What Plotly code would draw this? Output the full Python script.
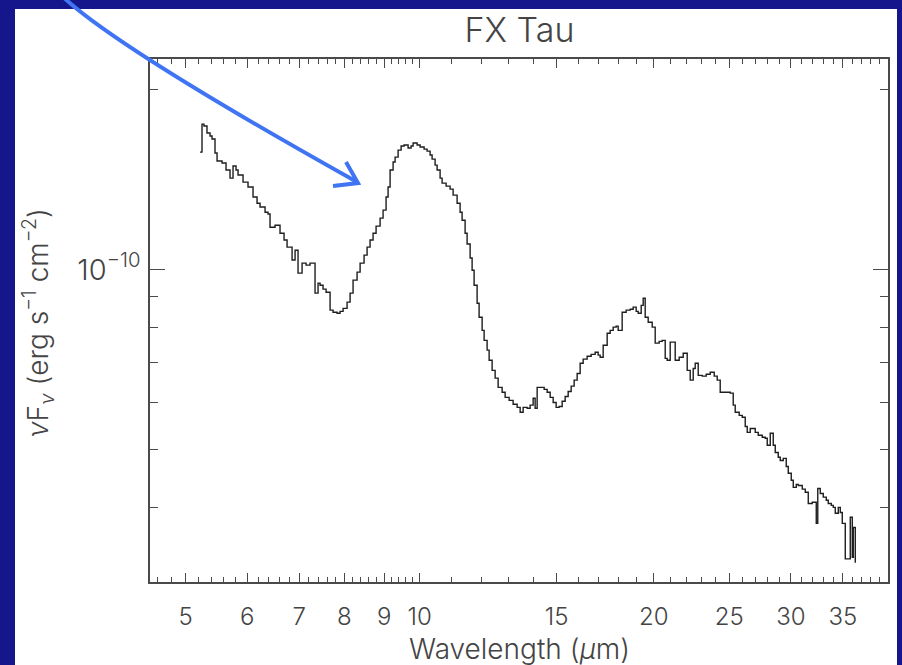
import numpy as np
import plotly.graph_objects as go

# Spitzer IRS spectrum of FX Tau: wavelength (micron) and nu*F_nu (units of 1e-10 erg s^-1 cm^-2)
wavelength = [
    5.218, 5.249, 5.280, 5.327, 5.375, 5.407, 5.455, 5.488, 5.570, 5.636,
    5.703, 5.754, 5.805, 5.840, 5.927, 6.015, 6.105, 6.178, 6.233, 6.326,
    6.382, 6.420, 6.516, 6.613, 6.692, 6.752, 6.853, 6.914, 6.975, 7.059,
    7.143, 7.228, 7.335, 7.401, 7.445, 7.511, 7.579, 7.669, 7.737, 7.829,
    7.899, 7.970, 8.065, 8.137, 8.209, 8.307, 8.382, 8.481, 8.557, 8.633,
    8.710, 8.788, 8.893, 8.972, 9.052, 9.106, 9.160, 9.242, 9.297, 9.380,
    9.464, 9.548, 9.662, 9.748, 9.806, 9.923, 10.011, 10.130, 10.221, 10.312,
    10.373, 10.466, 10.528, 10.622, 10.685, 10.812, 10.941, 11.039, 11.170, 11.270,
    11.337, 11.438, 11.506, 11.609, 11.678, 11.747, 11.852, 11.922, 12.029, 12.100,
    12.208, 12.281, 12.390, 12.501, 12.613, 12.763, 12.877, 13.030, 13.185, 13.343,
    13.462, 13.582, 13.744, 13.866, 13.990, 14.073, 14.157, 14.326, 14.454, 14.582,
    14.713, 14.844, 14.976, 15.110, 15.245, 15.381, 15.518, 15.657, 15.796, 15.937,
    16.079, 16.223, 16.416, 16.612, 16.810, 16.960, 17.060, 17.213, 17.418, 17.573,
    17.730, 17.888, 17.995, 18.209, 18.426, 18.646, 18.812, 18.980, 19.093, 19.263,
    19.378, 19.493, 19.667, 19.901, 20.079, 20.318, 20.500, 20.683, 20.805, 20.991,
    21.116, 21.304, 21.558, 21.815, 22.075, 22.272, 22.471, 22.604, 22.806, 23.078,
    23.353, 23.631, 23.913, 24.126, 24.341, 24.705, 25.073, 25.297, 25.447, 25.750,
    25.980, 26.212, 26.368, 26.603, 26.761, 27.000, 27.241, 27.566, 27.811, 27.977,
    28.227, 28.478, 28.648, 28.904, 29.075, 29.335, 29.596, 29.772, 30.038, 30.217,
    30.486, 30.667, 31.033, 31.310, 31.589, 31.965, 32.251, 32.346, 32.490, 32.732,
    33.024, 33.318, 33.516, 33.815, 34.016, 34.218, 34.524, 34.729, 34.935, 35.247,
    35.562, 35.773, 35.986, 36.092, 36.307,
]
nufnu_e10 = [
    1.572, 1.751, 1.738, 1.692, 1.672, 1.653, 1.566, 1.519, 1.507, 1.467,
    1.422, 1.490, 1.467, 1.439, 1.400, 1.374, 1.322, 1.291, 1.272, 1.247,
    1.238, 1.177, 1.186, 1.150, 1.120, 1.090, 1.037, 1.077, 0.986, 1.025,
    1.017, 1.025, 0.913, 0.949, 0.941, 0.927, 0.916, 0.855, 0.848, 0.845,
    0.851, 0.861, 0.882, 0.913, 0.960, 0.990, 1.025, 1.057, 1.090, 1.120,
    1.150, 1.182, 1.219, 1.257, 1.322, 1.374, 1.467, 1.513, 1.542, 1.584,
    1.609, 1.615, 1.597, 1.609, 1.628, 1.615, 1.603, 1.590, 1.578, 1.554,
    1.530, 1.495, 1.467, 1.422, 1.395, 1.379, 1.363, 1.332, 1.291, 1.247,
    1.209, 1.150, 1.103, 1.045, 0.997, 0.941, 0.878, 0.832, 0.791, 0.761,
    0.733, 0.705, 0.678, 0.658, 0.635, 0.623, 0.611, 0.604, 0.595, 0.588,
    0.577, 0.588, 0.586, 0.593, 0.609, 0.586, 0.635, 0.635, 0.630, 0.623,
    0.611, 0.599, 0.588, 0.590, 0.602, 0.613, 0.625, 0.638, 0.653, 0.670,
    0.697, 0.708, 0.716, 0.721, 0.727, 0.719, 0.713, 0.747, 0.782, 0.791,
    0.801, 0.804, 0.791, 0.848, 0.855, 0.858, 0.865, 0.851, 0.845, 0.871,
    0.895, 0.832, 0.816, 0.801, 0.753, 0.758, 0.761, 0.710, 0.705, 0.756,
    0.756, 0.705, 0.713, 0.724, 0.678, 0.653, 0.683, 0.697, 0.665, 0.663,
    0.668, 0.673, 0.663, 0.653, 0.623, 0.623, 0.621, 0.593, 0.577, 0.570,
    0.566, 0.546, 0.534, 0.542, 0.542, 0.534, 0.528, 0.524, 0.522, 0.508,
    0.532, 0.508, 0.494, 0.485, 0.479, 0.483, 0.468, 0.456, 0.444, 0.432,
    0.437, 0.435, 0.429, 0.424, 0.406, 0.408, 0.408, 0.376, 0.430, 0.422,
    0.416, 0.411, 0.406, 0.403, 0.400, 0.391, 0.400, 0.392, 0.376, 0.328,
    0.328, 0.385, 0.330, 0.370, 0.323,
]
nufnu = [v * 1e-10 for v in nufnu_e10]

x_tick_values = [5, 6, 7, 8, 9, 10, 15, 20, 25, 30, 35]
x_tick_labels = ["5", "6", "7", "8", "9", "10", "15", "20", "25", "30", "35"]
y_tick_values = [1e-10]
y_tick_labels = ["10<sup>\u221210</sup>"]

# minor tick positions: every 0.2 below 10 micron, every 1 micron above
x_minor = [round(v, 1) for v in np.arange(4.6, 10.0, 0.2) if abs(v - round(v)) > 1e-6]
x_minor += [v for v in range(11, 40) if v % 5 != 0]
y_minor = [k * 1e-11 for k in range(3, 10)] + [2e-10]

W, H = 902, 665
L, R, T, B = 150, 888, 59, 582  # plot frame in pixels

NAVY = "#15158c"
INK = "#444444"
FRAME = "#4a4a4a"
FONT = "Inter"


def paper(px, py):
    """Convert figure pixel position to paper coordinates."""
    return (px - L) / (R - L), (B - py) / (B - T)


fig = go.Figure()
fig.add_trace(go.Scatter(
    x=wavelength, y=nufnu, mode="lines", line_shape="hv",
    line=dict(color="#1e1e1e", width=1.4), showlegend=False, hoverinfo="skip",
))

axis_common = dict(
    showline=True, linecolor=FRAME, linewidth=1.5, mirror="allticks",
    ticks="inside", tickcolor=FRAME, tickwidth=1.3, showgrid=False, zeroline=False,
)

fig.update_xaxes(
    type="log", range=[np.log10(4.5), np.log10(40)],
    tickmode="array", tickvals=x_tick_values, ticktext=x_tick_labels, ticklen=9,
    ticklabelstandoff=12,
    tickfont=dict(family=FONT, size=24, color=INK, weight=300),
    minor=dict(tickmode="array", tickvals=x_minor, ticks="inside", ticklen=5,
               tickcolor=FRAME, tickwidth=1.2),
    **axis_common,
)
fig.update_yaxes(
    type="log", range=[np.log10(3e-11), np.log10(2.25e-10)],
    tickmode="array", tickvals=y_tick_values, ticktext=y_tick_labels, ticklen=15,
    ticklabelstandoff=2,
    tickfont=dict(family=FONT, size=29, color=INK, weight=300),
    minor=dict(tickmode="array", tickvals=y_minor, ticks="inside", ticklen=8,
               tickcolor=FRAME, tickwidth=1.2),
    **axis_common,
)

# white slide panel inside the navy border
x0, y0 = paper(15, 665)
x1, y1 = paper(897, 9)
shapes = [dict(type="rect", xref="paper", yref="paper", x0=x0, y0=y0, x1=x1, y1=y1,
               fillcolor="white", line=dict(width=0), layer="below")]

# curved pointer arrow toward the silicate feature
p0, p1, p2 = paper(62, -4), paper(117, 48), paper(357, 182)
shapes.append(dict(
    type="path", xref="paper", yref="paper", layer="above",
    path=f"M {p0[0]},{p0[1]} Q {p1[0]},{p1[1]} {p2[0]},{p2[1]}",
    line=dict(color="#3f74f2", width=4),
))
a0, tip, a1 = paper(346, 162), paper(358, 183), paper(333, 186)
shapes.append(dict(
    type="path", xref="paper", yref="paper", layer="above",
    path=f"M {a0[0]},{a0[1]} L {tip[0]},{tip[1]} L {a1[0]},{a1[1]}",
    line=dict(color="#3f74f2", width=4),
))

ytx, yty = paper(38, 323)
xtx, xty = paper(519, 649)
annotations = [
    dict(text="<i>\u03bd</i>F<sub><i>\u03bd</i></sub> (erg s<sup>\u22121</sup> cm<sup>\u22122</sup>)",
         xref="paper", yref="paper", x=ytx, y=yty, textangle=-90, showarrow=False,
         xanchor="center", yanchor="middle",
         font=dict(family=FONT, size=28, color=INK, weight=300)),
    dict(text="Wavelength (<i>\u03bc</i>m)", xref="paper", yref="paper", x=xtx, y=xty,
         showarrow=False, xanchor="center", yanchor="middle",
         font=dict(family=FONT, size=28, color=INK, weight=300)),
]

fig.update_layout(
    width=W, height=H, autosize=False,
    margin=dict(l=L, r=W - R, t=T, b=H - B, pad=0),
    paper_bgcolor=NAVY, plot_bgcolor="white",
    title=dict(text="FX Tau", x=519.5 / W, y=1 - 30 / H, xanchor="center", yanchor="middle",
               font=dict(family=FONT, size=34, color=INK, weight=300)),
    shapes=shapes, annotations=annotations,
)

fig.write_html("out.html")
